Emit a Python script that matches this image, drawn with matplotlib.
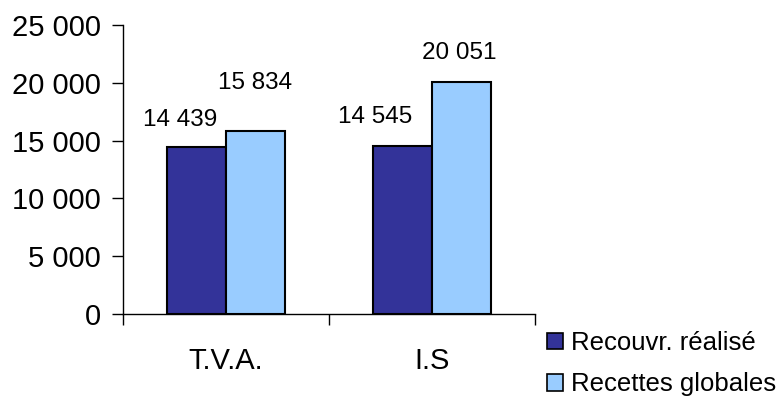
import matplotlib
matplotlib.use("Agg")
import matplotlib.pyplot as plt
from matplotlib.patches import Patch
import numpy as np

plt.rcParams['font.family'] = ['Liberation Sans', 'DejaVu Sans']

categories = ["T.V.A.", "I.S"]
series_names = ["Recouvr. réalisé", "Recettes globales"]
recouvr = [14439, 14545]
recettes = [15834, 20051]
y_ticks = [0, 5000, 10000, 15000, 20000, 25000]

colors = ["#333399", "#99CCFF"]

def fmt(v):
    return f"{v:,}".replace(",", " ")

fig = plt.figure(figsize=(7.82, 4.0), dpi=100)
ax = fig.add_axes([123/782, 1-314/400, (535-123)/782, (314-25)/400])

x = np.arange(len(categories))
w = 0.286
b1 = ax.bar(x - w/2, recouvr, w, color=colors[0], edgecolor="black", linewidth=1.5, zorder=3)
b2 = ax.bar(x + w/2, recettes, w, color=colors[1], edgecolor="black", linewidth=1.5, zorder=3)

# data labels (offsets in pixels, label centre relative to bar top centre)
offsets1 = [(-16, 27), (-27, 29)]
offsets2 = [(0, 48), (-2, 29.5)]
for bars, vals, offs in ((b1, recouvr, offsets1), (b2, recettes, offsets2)):
    for r, v, (dx, dy) in zip(bars, vals, offs):
        ax.annotate(fmt(v), (r.get_x() + r.get_width()/2, v), xytext=(dx, dy),
                    textcoords="offset pixels", ha="center", va="center",
                    fontsize=17.5, color="black", annotation_clip=False)

ax.set_xlim(-0.5, len(categories) - 0.5)
ax.set_ylim(0, 25000)
ax.set_yticks(y_ticks)
ax.set_yticklabels([fmt(t) for t in y_ticks], fontsize=21)
ax.tick_params(axis="y", direction="out", length=8, width=1, pad=8)

ax.set_xticks(np.arange(len(categories) + 1) - 0.5)
ax.set_xticklabels([])
ax.tick_params(axis="x", which="major", direction="out", length=8, width=1)
ax.set_xticks(x, minor=True)
ax.set_xticklabels(categories, minor=True, fontsize=21)
ax.tick_params(axis="x", which="minor", length=0, pad=24)

for s in ("top", "right"):
    ax.spines[s].set_visible(False)
for s in ("left", "bottom"):
    ax.spines[s].set_linewidth(1)

handles = [Patch(facecolor=c, edgecolor="black", linewidth=1.2) for c in colors]
fig.legend(handles, series_names, loc="upper left", bbox_to_anchor=(547/782, 1-331/400),
           frameon=False, fontsize=18.5, handlelength=0.62, handleheight=0.62,
           handletextpad=0.3, labelspacing=0.68, borderpad=0, borderaxespad=0)

fig.savefig("out.png", dpi=100)
